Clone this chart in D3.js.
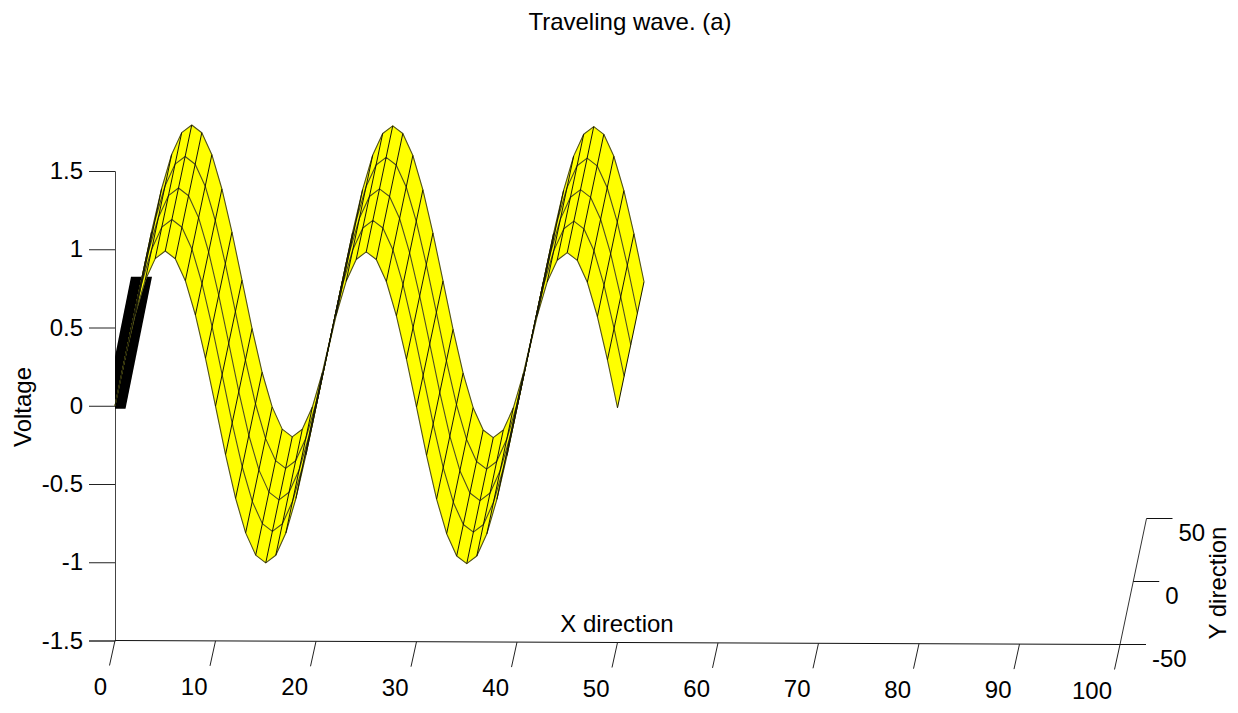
<!DOCTYPE html>
<html>
<head>
<meta charset="utf-8">
<script src="https://d3js.org/d3.v7.min.js"></script>
<style>
html,body{margin:0;padding:0;background:#fff;}
svg{display:block;}
text{font-family:"Liberation Sans",Arial,sans-serif;fill:#000;}
</style>
</head>
<body>
<svg id="chart" width="1238" height="713"></svg>
<script>
const titleText = "Traveling wave. (a)";
const xLabel = "X direction", yLabel = "Y direction", zLabel = "Voltage";
const xTicks = [0,10,20,30,40,50,60,70,80,90,100];
const yTicks = [-50,0,50];
const zTicks = [-1.5,-1,-0.5,0,0.5,1,1.5];
const yGrid = [-50,-25,0,25,50];
const xGrid = [0,1,2,3,4,5,6,7,8,9,10,11,12,13,14,15,16,17,18,19,20,21,22,23,24,25,26,27,28,29,30,31,32,33,34,35,36,37,38,39,40,41,42,43,44,45,46,47,48,49,50];
const zProfile = [0,0.306,0.582,0.801,0.941,0.99,0.941,0.801,0.582,0.306,0,-0.309,-0.588,-0.809,-0.951,-1,-0.951,-0.809,-0.588,-0.309,
  0,0.306,0.582,0.801,0.941,0.99,0.941,0.801,0.582,0.306,0,-0.309,-0.588,-0.809,-0.951,-1,-0.951,-0.809,-0.588,-0.309,
  0,0.306,0.582,0.801,0.941,0.99,0.941,0.801,0.582,0.306,0];

const FS = 24;
const svg = d3.select("#chart");

// oblique 3-D projection built from linear scales
const xPx = d3.scaleLinear().domain([0,100]).range([115,1120]);
const xDrop = d3.scaleLinear().domain([0,100]).range([0,4]);
const yPxX = d3.scaleLinear().domain([-50,50]).range([0,26.5]);
const yPxY = d3.scaleLinear().domain([-50,50]).range([0,-126]);
const zPx = d3.scaleLinear().domain([-1.5,1.5]).range([640.5,171]);
const project = (x,y,z) => [xPx(x)+yPxX(y), zPx(z)+xDrop(x)+yPxY(y)];
const pathOf = pts => "M" + pts.map(p => p[0].toFixed(2)+","+p[1].toFixed(2)).join("L") + "Z";
const lineGen = d3.line();

svg.append("rect").attr("width",1238).attr("height",713).attr("fill","#fff");

// z axis
const zAxis = d3.axisLeft(zPx).tickValues(zTicks).tickSize(26).tickPadding(6).tickFormat(String);
const gz = svg.append("g").attr("transform","translate(115,0)").call(zAxis);
gz.selectAll("path.domain").attr("stroke","#444");
gz.selectAll("line").attr("stroke","#222");
gz.selectAll("text").attr("font-size",FS).attr("font-family","Liberation Sans").attr("fill","#000");
gz.attr("font-family",null).attr("font-size",null);

// x axis
const axisZ = -1.5;
const xa = project(0,-50,axisZ), xb = project(100,-50,axisZ);
svg.append("line").attr("x1",xa[0]).attr("y1",xa[1]).attr("x2",xb[0]).attr("y2",xb[1]).attr("stroke","#111");
const xT = svg.append("g").selectAll("g").data(xTicks).join("g");
xT.append("line")
  .attr("x1",d=>project(d,-50,axisZ)[0]).attr("y1",d=>project(d,-50,axisZ)[1])
  .attr("x2",d=>project(d,-50,axisZ)[0]-5.5).attr("y2",d=>project(d,-50,axisZ)[1]+25)
  .attr("stroke","#222");
xT.append("text")
  .attr("x",d=>project(d,-50,axisZ)[0]-8).attr("y",d=>project(d,-50,axisZ)[1]+54)
  .attr("text-anchor","end").attr("font-size",FS).text(d=>d);

// y axis
const ya = project(100,-50,axisZ), yb = project(100,50,axisZ);
svg.append("line").attr("x1",ya[0]).attr("y1",ya[1]).attr("x2",yb[0]).attr("y2",yb[1]).attr("stroke","#333");
const yT = svg.append("g").selectAll("g").data(yTicks).join("g");
yT.append("line")
  .attr("x1",d=>project(100,d,axisZ)[0]).attr("y1",d=>project(100,d,axisZ)[1])
  .attr("x2",d=>project(100,d,axisZ)[0]+26).attr("y2",d=>project(100,d,axisZ)[1])
  .attr("stroke","#111");
yT.append("text")
  .attr("x",d=>project(100,d,axisZ)[0]+32).attr("y",d=>project(100,d,axisZ)[1]+22)
  .attr("font-size",FS).text(d=>d);

// thick black edge along x = 0, clipped at the z axis
const clip = svg.append("clipPath").attr("id","edgeClip");
clip.append("rect").attr("x",115).attr("y",0).attr("width",1123).attr("height",713);
const halfW = 10.5;
const e0 = project(0,-50,0), e1 = project(0,50,0);
svg.append("path").attr("clip-path","url(#edgeClip)").attr("fill","#000")
  .attr("d",pathOf([[e0[0]-halfW,e0[1]+3],[e0[0]+halfW,e0[1]+3],[e1[0]+halfW,e1[1]-3],[e1[0]-halfW,e1[1]-3]]));

// surface: yellow faces
const quads = [];
for (let j = yGrid.length-2; j >= 0; j--) {
  for (let i = 0; i < xGrid.length-1; i++) {
    quads.push([
      project(xGrid[i],yGrid[j],zProfile[i]),
      project(xGrid[i+1],yGrid[j],zProfile[i+1]),
      project(xGrid[i+1],yGrid[j+1],zProfile[i+1]),
      project(xGrid[i],yGrid[j+1],zProfile[i])
    ]);
  }
}
svg.append("g").selectAll("path").data(quads).join("path")
  .attr("d",pathOf).attr("fill","#ffff00").attr("stroke","#ffff00").attr("stroke-width",0.4);

// surface: mesh lines of constant y (softer) and constant x (darker)
svg.append("g").selectAll("path").data(yGrid).join("path")
  .attr("fill","none").attr("stroke","#4f4f1e").attr("stroke-width",1.1).attr("stroke-linejoin","round")
  .attr("d",y => lineGen(xGrid.map((x,i) => project(x,y,zProfile[i]))));
svg.append("g").selectAll("line").data(xGrid.map((x,i)=>i)).join("line")
  .attr("stroke","#141408").attr("stroke-width",1)
  .attr("x1",i=>project(xGrid[i],yGrid[0],zProfile[i])[0])
  .attr("y1",i=>project(xGrid[i],yGrid[0],zProfile[i])[1])
  .attr("x2",i=>project(xGrid[i],yGrid[yGrid.length-1],zProfile[i])[0])
  .attr("y2",i=>project(xGrid[i],yGrid[yGrid.length-1],zProfile[i])[1]);

// labels
svg.append("text").attr("x",630).attr("y",30).attr("text-anchor","middle").attr("font-size",FS).text(titleText);
svg.append("text").attr("x",617).attr("y",632).attr("text-anchor","middle").attr("font-size",FS).text(xLabel);
svg.append("text").attr("transform","translate(31,407) rotate(-90)").attr("text-anchor","middle").attr("font-size",FS).text(zLabel);
svg.append("text").attr("transform","translate(1226,583) rotate(-90)").attr("text-anchor","middle").attr("font-size",FS).text(yLabel);
</script>
</body>
</html>
